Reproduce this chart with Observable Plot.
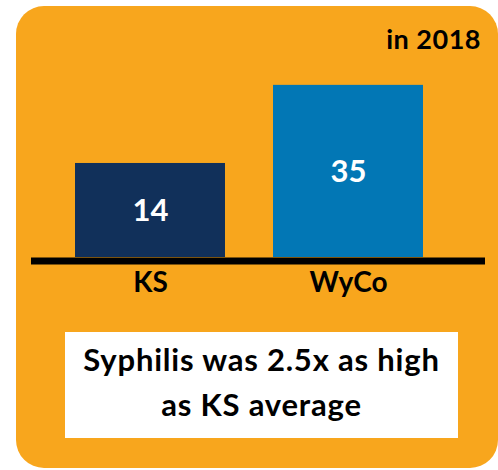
<!DOCTYPE html>
<html>
<head>
<meta charset="utf-8">
<script src="https://cdn.jsdelivr.net/npm/d3@7"></script>
<script src="https://cdn.jsdelivr.net/npm/@observablehq/plot@0.6"></script>
<style>
  html, body { margin: 0; padding: 0; background: #ffffff; }
  #wrap { position: relative; width: 498px; height: 470px; overflow: hidden; font-family: Lato, "Open Sans", sans-serif; }
  #bg { position: absolute; left: 16px; top: 6px; width: 482px; height: 462px; border-radius: 28px; background: #F8A61D; }
  #year { position: absolute; right: 17px; top: 25px; font-size: 27px; line-height: 27px; font-weight: 700; color: #000; letter-spacing: 0.5px; }
  #chart { position: absolute; left: 0; top: 0; }
  #note { position: absolute; left: 65px; top: 332px; width: 393px; height: 106px; box-sizing: border-box; padding-top: 5px;
          background: #ffffff; text-align: center; font-size: 31px; line-height: 45px; font-weight: 700; color: #000;
          letter-spacing: 0.8px; white-space: nowrap; }
</style>
</head>
<body>
<div id="wrap">
  <div id="bg"></div>
  <div id="year">in 2018</div>
  <div id="chart"></div>
  <div id="note">Syphilis was 2.5x as high<br>as KS average</div>
</div>
<script>
const categories = ["KS", "WyCo"];
const values = [14, 35];
const colors = ["#11305A", "#0277B5"];

const data = categories.map((c, i) => ({category: c, value: values[i], color: colors[i]}));
const exponent = 0.66;
const mid = v => v * Math.pow(0.5, 1 / exponent); // value at pixel midpoint of bar

const chart = Plot.plot({
  width: 498,
  height: 300,
  marginLeft: 27,
  marginRight: 27,
  marginTop: 69,
  marginBottom: 43,
  style: {background: "transparent", fontFamily: "Lato, 'Open Sans', sans-serif"},
  x: {type: "band", domain: categories, range: [27, 471], padding: 0.2424, axis: null},
  y: {type: "pow", exponent, domain: [0, 40], range: [257, 69], axis: null},
  marks: [
    Plot.barY(data, {x: "category", y: "value", fill: "color"}),
    Plot.ruleY([0], {stroke: "#000", strokeWidth: 7, dy: 3.5, insetLeft: 4, insetRight: -14}),
    Plot.text(data, {x: "category", y: d => mid(d.value), text: d => String(d.value), fill: "#fff",
      fontSize: 31, fontWeight: 700, dy: 1}),
    Plot.text(data, {x: "category", text: "category", frameAnchor: "bottom", lineAnchor: "top",
      dy: 15, fill: "#000", fontSize: 28, fontWeight: 700})
  ]
});
document.getElementById("chart").appendChild(chart);
</script>
</body>
</html>
